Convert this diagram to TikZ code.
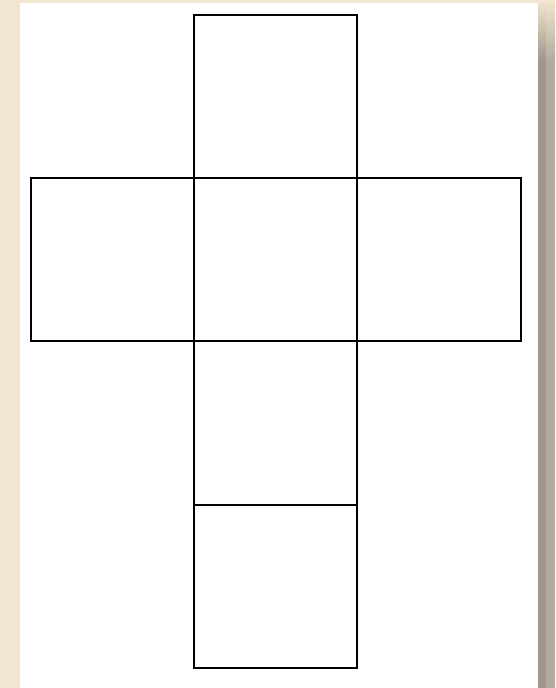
\documentclass[tikz,border=0pt]{standalone}
\begin{document}
\begin{tikzpicture}[x=1pt,y=-1pt,
  edge/.style={line width=2.4pt,black,line cap=rect}]
\definecolor{beige}{HTML}{F3E6D0}
\definecolor{graya}{HTML}{9E988C}
\definecolor{grayb}{HTML}{B3AB9C}
\useasboundingbox (0,0) rectangle (555,688);
\fill[beige] (0,0) rectangle (555,688);
\fill[graya] (538,60) rectangle (546,688);
\fill[grayb] (546,60) rectangle (555,688);
\shade[top color=beige,bottom color=graya] (538,0) rectangle (546,60);
\shade[top color=beige,bottom color=grayb] (546,0) rectangle (555,60);
\fill[white] (20,3) rectangle (538,688);
% vertical column of squares
\coordinate (t1) at (194,15);
\coordinate (t2) at (357,15);
\coordinate (b1) at (194,668);
\coordinate (b2) at (357,668);
\coordinate (l1) at (31,178);
\coordinate (l2) at (31,341);
\coordinate (r1) at (521,178);
\coordinate (r2) at (521,341);
\draw[edge] (t1) rectangle (b2);
\draw[edge] (l1) rectangle (r2);
\draw[edge] (194,505) -- (357,505);
\end{tikzpicture}
\end{document}
